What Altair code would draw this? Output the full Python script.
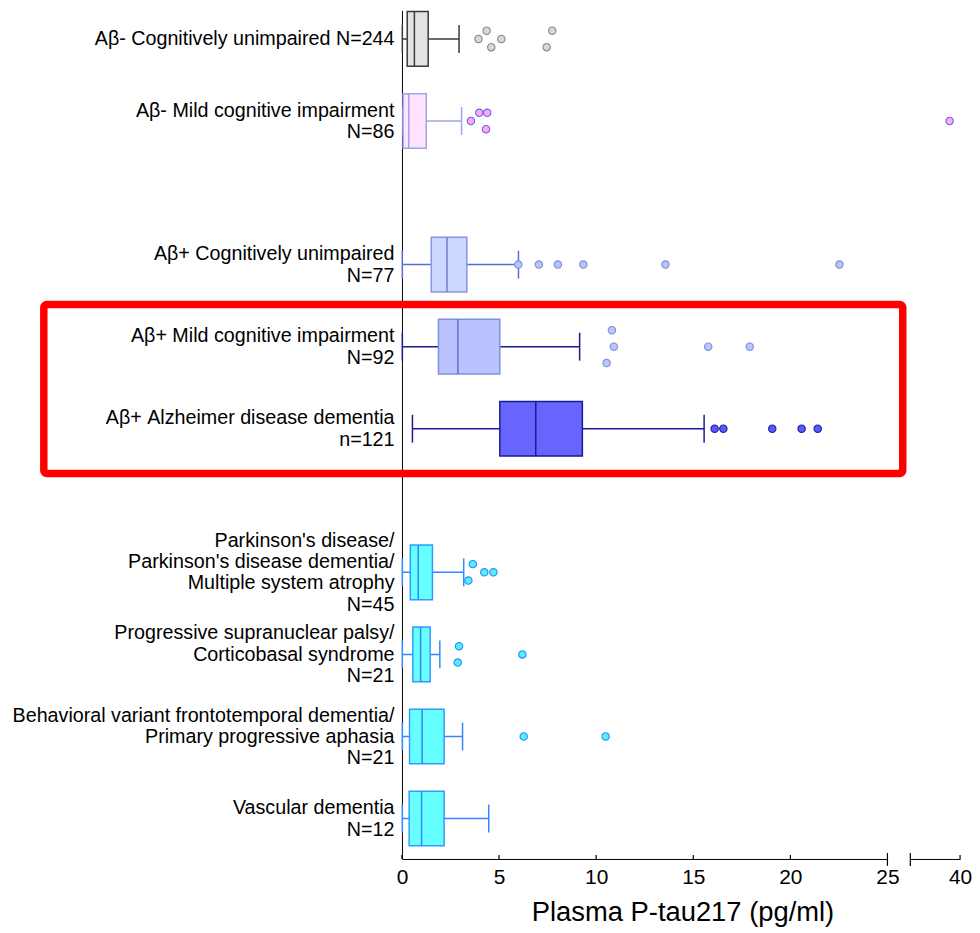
import json
import altair as alt
import pandas as pd

# ---------------- data ----------------
labels = [
    "Aβ- Cognitively unimpaired N=244",
    "Aβ- Mild cognitive impairment\nN=86",
    "Aβ+ Cognitively unimpaired\nN=77",
    "Aβ+ Mild cognitive impairment\nN=92",
    "Aβ+ Alzheimer disease dementia\nn=121",
    "Parkinson's disease/\nParkinson's disease dementia/\nMultiple system atrophy\nN=45",
    "Progressive supranuclear palsy/\nCorticobasal syndrome\nN=21",
    "Behavioral variant frontotemporal dementia/\nPrimary progressive aphasia\nN=21",
    "Vascular dementia\nN=12",
]
block = [0, 0, 1, 1, 1, 2, 2, 2, 2]          # diagnostic block of each group
whisker_low = [0.02, 0.06, 0.02, 0.02, 0.54, 0.02, 0.02, 0.02, 0.02]
q1 = [0.27, 0.06, 1.51, 1.88, 5.04, 0.43, 0.56, 0.39, 0.37]
median = [0.64, 0.35, 2.32, 2.88, 6.89, 0.84, 0.96, 1.04, 1.01]
q3 = [1.35, 1.25, 3.34, 5.04, 9.29, 1.57, 1.45, 2.17, 2.17]
whisker_high = [2.94, 3.07, 6.00, 9.15, 15.56, 3.18, 1.95, 3.12, 4.47]
outlier_values = [
    [3.94, 4.36, 4.60, 5.12, 7.45, 7.74],
    [3.55, 3.98, 4.39, 4.33, 38.95],
    [5.99, 7.05, 8.03, 9.34, 13.57, 22.53],
    [10.81, 10.91, 10.54, 15.77, 17.91],
    [16.10, 16.55, 19.07, 20.58, 21.41],
    [3.65, 4.24, 4.71, 3.42],
    [2.94, 2.87, 6.20],
    [6.27, 10.49],
    [],
]
outlier_stack = [             # vertical dodge level of each outlier
    [0, -1, 1, 0, 1, -1],
    [0, -1, -1, 1, 0],
    [0, 0, 0, 0, 0, 0],
    [-2, 0, 2, 0, 0],
    [0, 0, 0, 0, 0],
    [-1, 0, 0, 1],
    [-1, 1, 0],
    [0, 0],
    [],
]
highlighted = ["Aβ+ Mild cognitive impairment\nN=92", "Aβ+ Alzheimer disease dementia\nn=121"]
left_ticks = [0, 5, 10, 15, 20, 25]
right_ticks = [35, 40]
break_ticks = [25, 35]
x_title = "Plasma P-tau217 (pg/ml)"

# ---------------- styles ----------------
box_fill = ["#e3e3e3", "#ffe3ff", "#ccd8ff", "#bbc3ff", "#6666ff",
            "#66ffff", "#66ffff", "#66ffff", "#66ffff"]
box_edge = ["#3a3a3a", "#9ea6e8", "#8895e3", "#8090e0", "#1a1a99",
            "#3399ff", "#3399ff", "#3399ff", "#3399ff"]
median_col = ["#3a3a3a", "#9ea6e8", "#6f7fd8", "#6070d0", "#1a1a99",
              "#3388ee", "#3388ee", "#3388ee", "#3388ee"]
whisker_col = ["#3a3a3a", "#9ea6e8", "#5b6bd6", "#1a1a8c", "#1a1a99",
               "#3388ff", "#3388ff", "#3388ff", "#3388ff"]
out_fill = ["#d8d8d8", "#ffa6ff", "#b8c4f5", "#bcc6f7", "#5a5af5",
            "#55eeff", "#55eeff", "#55eeff", "#55eeff"]
out_edge = ["#8a8a8a", "#6a6ad8", "#7f8ee0", "#7f8ee0", "#2020a8",
            "#2b8cf0", "#2b8cf0", "#2b8cf0", "#2b8cf0"]

FONT = "Liberation Sans, Arial, Helvetica, sans-serif"
W_LEFT, W_RIGHT, H = 488, 50, 853
GAP_UNITS = 0.75
BOX_HALF = 0.333
CAP_HALF = 0.17
DODGE = 0.1
LABEL_SIZE = 19.8
LINE_H = 21.5

# ---------------- tables ----------------
pos = [i + 1 + GAP_UNITS * b for i, b in enumerate(block)]
box_df = pd.DataFrame({
    "label": labels, "pos": pos, "lo": whisker_low, "q1": q1,
    "med": median, "q3": q3, "hi": whisker_high,
})
caps_df = pd.concat([
    box_df[["label", "pos"]].assign(v=box_df["lo"]),
    box_df[["label", "pos"]].assign(v=box_df["hi"]),
], ignore_index=True)
out_rows = []
for lab, p, vals, st in zip(labels, pos, outlier_values, outlier_stack):
    for v, s in zip(vals, st):
        out_rows.append({"label": lab, "pos": p, "value": v, "stack": s})
out_df = pd.DataFrame(out_rows)
hl_pos = [p for lab, p in zip(labels, pos) if lab in highlighted]
hl_df = pd.DataFrame({"y0": [min(hl_pos) - 0.513], "y1": [max(hl_pos) + 0.546]})

y_dom = [0.652, 10.993]
yscale = alt.Scale(domain=y_dom, reverse=True, nice=False, zero=False)

# multi-line labels: place the first line so that the block is centred on the group
unit_px = H / (y_dom[1] - y_dom[0])
label_at = []
expr = "''"
for lab, p in zip(labels, pos):
    n = len(lab.split("\n"))
    label_at.append(round(p - (n - 1) / 2 * LINE_H / unit_px, 6))
for lab, v in reversed(list(zip(labels, label_at))):
    lines = "[" + ",".join(json.dumps(s, ensure_ascii=False) for s in lab.split("\n")) + "]"
    expr = f"abs(datum.value - {v}) < 0.0005 ? {lines} : ({expr})"

yaxis = alt.Axis(values=label_at, labelExpr=expr, title=None, ticks=False, grid=False,
                 labelFont=FONT, labelFontSize=LABEL_SIZE, labelLineHeight=LINE_H,
                 labelColor="black", labelPadding=8, labelOverlap=False,
                 labelAlign="right", labelBaseline="middle", labelLimit=0,
                 domainColor="black", domainWidth=1, labelBound=False)

def cscale(rng):
    return alt.Scale(domain=labels, range=rng)

xs_left = alt.Scale(domain=[0, 25], nice=False, zero=False)
xs_right = alt.Scale(domain=[35, 40], nice=False, zero=False)

xaxis_left = alt.Axis(values=left_ticks, ticks=False, grid=False, labelFont=FONT,
                      labelFontSize=21, labelColor="black", labelPadding=8,
                      labelFlush=False, domainColor="black", domainWidth=1,
                      title=x_title, titleFont=FONT, titleFontSize=27.5,
                      titleFontWeight="normal", titleColor="black",
                      titleX=282, titleY=54, titleAnchor="middle",
                      titleBaseline="middle", titleAlign="center")
xaxis_right = alt.Axis(values=right_ticks, ticks=False, grid=False, labelFont=FONT,
                       labelFontSize=21, labelColor="black", labelPadding=8,
                       labelFlush=False, domainColor="black", domainWidth=1,
                       labelExpr="datum.value == 40 ? '40' : ''", title=None)

# ---------------- left panel ----------------
base_box = alt.Chart(box_df)

whiskers = base_box.mark_rule(strokeWidth=1.5).encode(
    x=alt.X("lo:Q", scale=xs_left, axis=xaxis_left),
    x2="hi:Q",
    y=alt.Y("pos:Q", scale=yscale, axis=yaxis),
    color=alt.Color("label:N", scale=cscale(whisker_col), legend=None),
)

caps = alt.Chart(caps_df).transform_calculate(
    ya=f"datum.pos - {CAP_HALF}", yb=f"datum.pos + {CAP_HALF}"
).mark_rule(strokeWidth=1.5).encode(
    x=alt.X("v:Q", scale=xs_left),
    y=alt.Y("ya:Q", scale=yscale),
    y2="yb:Q",
    color=alt.Color("label:N", scale=cscale(whisker_col), legend=None),
)

boxes = base_box.transform_calculate(
    ya=f"datum.pos - {BOX_HALF}", yb=f"datum.pos + {BOX_HALF}"
).mark_rect(strokeWidth=1.5).encode(
    x=alt.X("q1:Q", scale=xs_left),
    x2="q3:Q",
    y=alt.Y("ya:Q", scale=yscale),
    y2="yb:Q",
    fill=alt.Fill("label:N", scale=cscale(box_fill), legend=None),
    stroke=alt.Stroke("label:N", scale=cscale(box_edge), legend=None),
)

medians = base_box.transform_calculate(
    ya=f"datum.pos - {BOX_HALF}", yb=f"datum.pos + {BOX_HALF}"
).mark_rule(strokeWidth=1.5).encode(
    x=alt.X("med:Q", scale=xs_left),
    y=alt.Y("ya:Q", scale=yscale),
    y2="yb:Q",
    color=alt.Color("label:N", scale=cscale(median_col), legend=None),
)

def outliers(filter_expr, xs):
    return alt.Chart(out_df).transform_filter(filter_expr).transform_calculate(
        yy=f"datum.pos + {DODGE} * datum.stack"
    ).mark_point(shape="circle", filled=True, size=55, strokeWidth=1.1, opacity=1).encode(
        x=alt.X("value:Q", scale=xs),
        y=alt.Y("yy:Q", scale=yscale),
        fill=alt.Fill("label:N", scale=cscale(out_fill), legend=None),
        stroke=alt.Stroke("label:N", scale=cscale(out_edge), legend=None),
    )

highlight = alt.Chart(hl_df).mark_rect(
    filled=False, stroke="#ff0000", strokeWidth=7.5, cornerRadius=3
).encode(
    x=alt.value(-360), x2=alt.value(503.4),
    y=alt.Y("y0:Q", scale=yscale), y2="y1:Q",
)

def tick_rules(values, xs, up, down):
    return alt.Chart(pd.DataFrame({"t": values})).mark_rule(
        color="black", strokeWidth=1.2
    ).encode(
        x=alt.X("t:Q", scale=xs),
        y=alt.value(H - up), y2=alt.value(H + down),
    )

left = alt.layer(
    whiskers, caps, boxes, medians,
    outliers("datum.value <= 25", xs_left),
    highlight,
    tick_rules([t for t in left_ticks if t not in break_ticks], xs_left, 4, 0),
    tick_rules([t for t in break_ticks if t <= 25], xs_left, 6, 7),
).resolve_scale(
    fill="independent", stroke="independent", color="independent"
).properties(width=W_LEFT, height=H)

# ---------------- right panel (after axis break) ----------------
right_out = alt.Chart(out_df).transform_filter("datum.value >= 35").transform_calculate(
    yy=f"datum.pos + {DODGE} * datum.stack"
).mark_point(shape="circle", filled=True, size=55, strokeWidth=1.1, opacity=1).encode(
    x=alt.X("value:Q", scale=xs_right, axis=xaxis_right),
    y=alt.Y("yy:Q", scale=yscale, axis=None),
    fill=alt.Fill("label:N", scale=cscale(out_fill), legend=None),
    stroke=alt.Stroke("label:N", scale=cscale(out_edge), legend=None),
)
right = alt.layer(
    right_out,
    tick_rules([t for t in right_ticks if t not in break_ticks], xs_right, 4, 0),
    tick_rules([t for t in break_ticks if t >= 35], xs_right, 6, 7),
).properties(width=W_RIGHT, height=H)

chart = alt.hconcat(left, right, spacing=23, bounds="flush").resolve_scale(
    fill="independent", stroke="independent", color="independent"
).properties(
    padding={"left": 4, "top": 0, "right": 0, "bottom": 0},
    background="white",
).configure_view(stroke="transparent", strokeWidth=0)

chart.save("out.html", embed_options={"renderer": "svg", "actions": False})
